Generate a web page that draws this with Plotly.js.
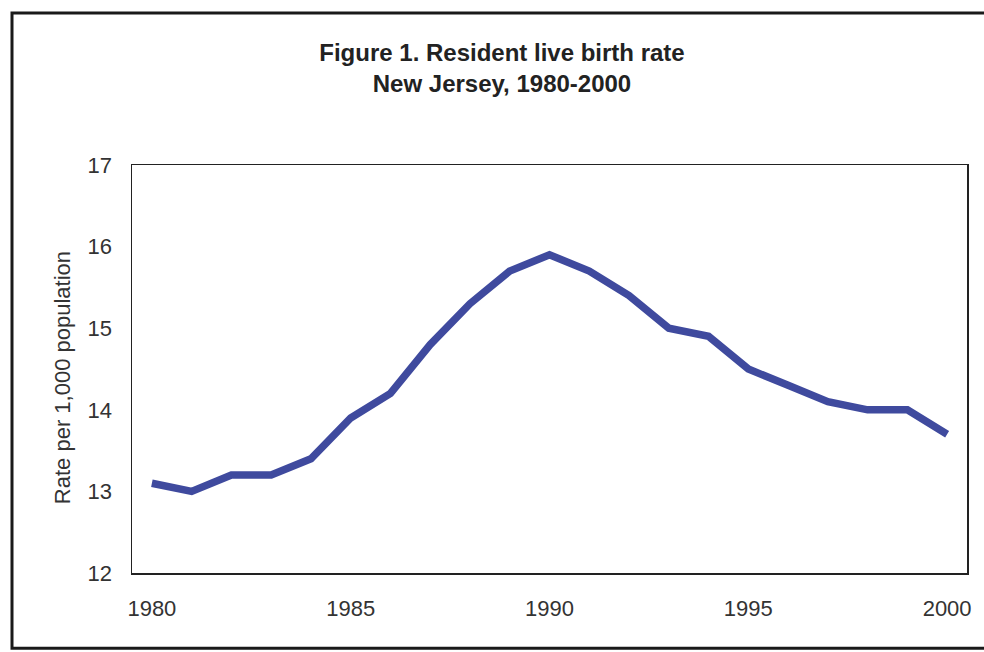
<!DOCTYPE html>
<html>
<head>
<meta charset="utf-8">
<script src="https://cdn.plot.ly/plotly-3.0.1.min.js"></script>
<style>
html,body{margin:0;padding:0;background:#fff;}
#chart{width:984px;height:652px;}
</style>
</head>
<body>
<div id="chart"></div>
<script>
const years = [1980,1981,1982,1983,1984,1985,1986,1987,1988,1989,1990,1991,1992,1993,1994,1995,1996,1997,1998,1999,2000];
const birthRate = [13.1,13.0,13.2,13.2,13.4,13.9,14.2,14.8,15.3,15.7,15.9,15.7,15.4,15.0,14.9,14.5,14.3,14.1,14.0,14.0,13.7];
const xTicks = [1980,1985,1990,1995,2000];
const yTicks = [12,13,14,15,16,17];
const titleText = 'Figure 1. Resident live birth rate<br>New Jersey, 1980-2000';
const yTitleText = 'Rate per 1,000 population';

const trace = {
  x: years,
  y: birthRate,
  type: 'scatter',
  mode: 'lines',
  line: {color: '#3F4A9E', width: 7.5},
  hoverinfo: 'x+y'
};

const tickFont = {family: 'Liberation Sans, Arial, sans-serif', size: 22, color: '#333'};

const layout = {
  width: 984,
  height: 652,
  margin: {l: 132, r: 17, t: 165, b: 79},
  paper_bgcolor: '#fff',
  plot_bgcolor: '#fff',
  showlegend: false,
  title: {
    text: '<b>' + titleText.replace('<br>', '</b><br><b>') + '</b>',
    font: {family: 'Liberation Sans, Arial, sans-serif', size: 24, color: '#222'},
    x: 502 / 984, xref: 'container', xanchor: 'center',
    y: 1 - 61 / 652, yref: 'container', yanchor: 'middle'
  },
  xaxis: {
    range: [1979.5, 2000.5],
    tickvals: xTicks,
    ticktext: xTicks.map(String),
    ticks: '',
    ticklabelstandoff: 15,
    showgrid: false,
    zeroline: false,
    showline: true,
    mirror: true,
    linecolor: '#222',
    linewidth: 1.5,
    tickfont: tickFont
  },
  yaxis: {
    range: [12, 17],
    tickvals: yTicks,
    ticktext: yTicks.map(String),
    ticks: '',
    ticklabelstandoff: 14,
    showgrid: false,
    zeroline: false,
    showline: true,
    mirror: true,
    linecolor: '#222',
    linewidth: 1.5,
    tickfont: tickFont
  },
  annotations: [{
    text: yTitleText,
    xref: 'paper', yref: 'paper',
    x: (62 - 132) / 835, y: (572.7 - 378) / 407.7,
    xanchor: 'center', yanchor: 'middle',
    textangle: -90,
    showarrow: false,
    font: {family: 'Liberation Sans, Arial, sans-serif', size: 22, color: '#333'}
  }],
  shapes: [{
    type: 'rect',
    xref: 'paper', yref: 'paper',
    x0: (12 - 132) / 835, x1: (1000 - 132) / 835,
    y0: (572.7 - 648) / 407.7, y1: (572.7 - 13) / 407.7,
    line: {color: '#1a1a1a', width: 3},
    fillcolor: 'rgba(0,0,0,0)',
    layer: 'below'
  }]
};

Plotly.newPlot('chart', [trace], layout, {displayModeBar: false, staticPlot: true});
</script>
</body>
</html>
